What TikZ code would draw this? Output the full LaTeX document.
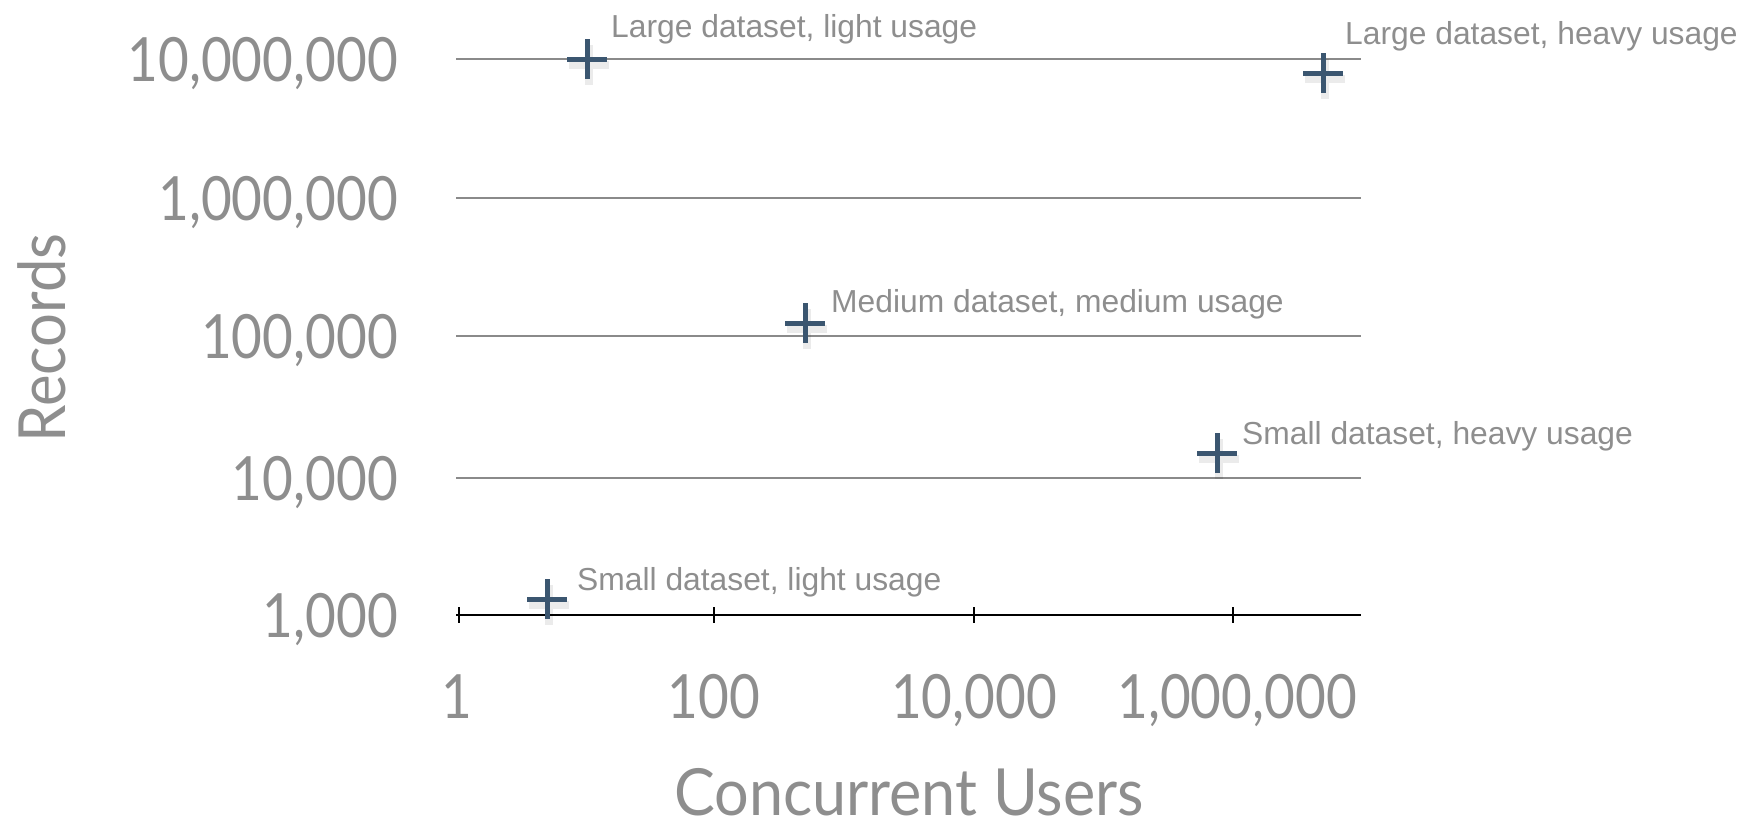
\documentclass[tikz,border=0pt]{standalone}
\usepackage{fontspec}
\usepackage{graphicx}
\setmainfont{Lato}
\newfontfamily\lblfont{Liberation Sans}
\definecolor{labelgray}{HTML}{8E8E8E}
\definecolor{gridgray}{HTML}{8A8A8A}
\definecolor{crossblue}{HTML}{3B5670}
\begin{document}
\begin{tikzpicture}[x=1pt,y=-1pt,
  gridline/.style={draw=gridgray,line width=2.6pt},
  axisline/.style={draw=black,line width=2.5pt},
  tickmark/.style={draw=black,line width=1.6pt},
  bigtick/.style={font=\fontsize{61}{61}\selectfont,text=labelgray,inner sep=0pt},
  axtitle/.style={font=\fontsize{65}{65}\selectfont,text=labelgray,inner sep=0pt},
  ptlabel/.style={font=\lblfont\fontsize{31.8}{32}\selectfont,text=labelgray,anchor=base west,inner sep=0pt},
  plusmark/.pic={
    \draw[line width=8pt,black,opacity=0.08] (-18,6) -- (22,6) (2,-14) -- (2,26);
    \draw[line width=5pt,crossblue] (-20,0) -- (20,0) (0,-20) -- (0,20);
  }]
\useasboundingbox (0,0) rectangle (1746,830);
% grid lines
\foreach \yy in {59,198,336,478}{
  \draw[gridline] (456,\yy) -- (1361,\yy);
}
% x axis
\coordinate (axl) at (456,615);
\coordinate (axr) at (1361,615);
\draw[axisline] (axl) -- (axr);
\foreach \xx in {459,714,974,1233}{
  \draw[tickmark] (\xx,607) -- (\xx,623);
}
% y tick labels
\node[bigtick,anchor=base east] (y7) at (398,81) {\scalebox{0.87}[1]{10,000,000}};
\node[bigtick,anchor=base east] (y6) at (398,220) {\scalebox{0.87}[1]{1,000,000}};
\node[bigtick,anchor=base east] (y5) at (398,358) {\scalebox{0.87}[1]{100,000}};
\node[bigtick,anchor=base east] (y4) at (398,500) {\scalebox{0.87}[1]{10,000}};
\node[bigtick,anchor=base east] (y3) at (398,637) {\scalebox{0.87}[1]{1,000}};
% x tick labels
\node[bigtick,anchor=base] (x0) at (457,718) {\scalebox{0.87}[1]{1}};
\node[bigtick,anchor=base] (x2) at (714,718) {\scalebox{0.87}[1]{100}};
\node[bigtick,anchor=base] (x4) at (974,718) {\scalebox{0.87}[1]{10,000}};
\node[bigtick,anchor=base] (x6) at (1237,718) {\scalebox{0.87}[1]{1,000,000}};
% axis titles
\node[axtitle,anchor=base] (xt) at (909,815) {\scalebox{0.94}[1]{Concurrent Users}};
\node[axtitle,anchor=base,rotate=90] (yt) at (65,338) {\scalebox{0.92}[1]{Records}};
% data points
\pic at (587,59) {plusmark};
\node[ptlabel] (l1) at (611,37) {Large dataset, light usage};
\pic at (1323,73) {plusmark};
\node[ptlabel] (l2) at (1345,44) {Large dataset, heavy usage};
\pic at (805,323) {plusmark};
\node[ptlabel] (l3) at (831,312) {Medium dataset, medium usage};
\pic at (1217,453) {plusmark};
\node[ptlabel] (l4) at (1242,444) {Small dataset, heavy usage};
\pic at (547,599) {plusmark};
\node[ptlabel] (l5) at (577,590) {Small dataset, light usage};
\end{tikzpicture}
\end{document}
